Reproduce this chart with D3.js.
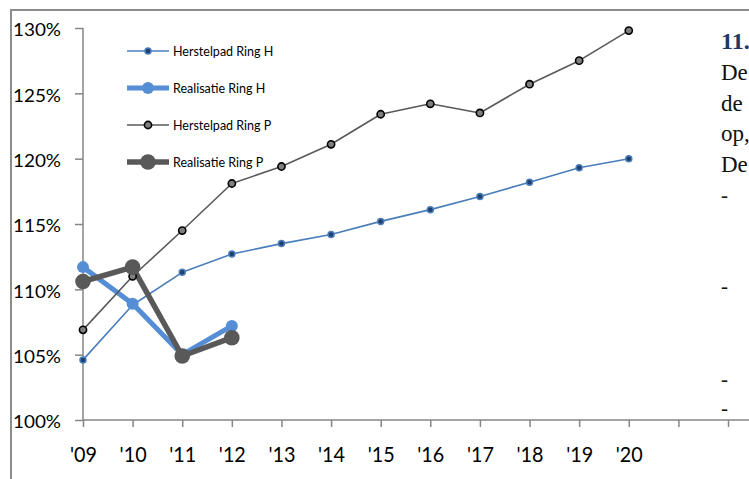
<!DOCTYPE html>
<html>
<head>
<meta charset="utf-8">
<script src="https://cdn.jsdelivr.net/npm/d3@7"></script>
<style>
  html, body { margin: 0; padding: 0; background: #ffffff; }
  svg { display: block; }
</style>
</head>
<body>
<svg id="chart" width="749" height="479"></svg>
<script>
// ---- data ----
const categories = ["'09","'10","'11","'12","'13","'14","'15","'16","'17","'18","'19","'20"];
const herstelpadH = [104.6, 108.8, 111.3, 112.7, 113.5, 114.2, 115.2, 116.1, 117.1, 118.2, 119.3, 120.0];
const realisatieH = [111.7, 108.9, 105.0, 107.2];
const herstelpadP = [106.9, 111.0, 114.5, 118.1, 119.4, 121.1, 123.4, 124.2, 123.5, 125.7, 127.5, 129.8];
const realisatieP = [110.6, 111.7, 104.9, 106.3];
const yTickValues = [100, 105, 110, 115, 120, 125, 130];
const seriesNames = ["Herstelpad Ring H", "Realisatie Ring H", "Herstelpad Ring P", "Realisatie Ring P"];
const sideHeading = "11.";
const sideLines = ["De", "de", "op,", "De"];
const sideDashes = ["-", "-", "-", "-"];

// ---- layout ----
const svg = d3.select("#chart");
const slotCount = 14; // axis slots ('09 .. '22), only first 12 labelled
const x = d3.scaleLinear().domain([0, slotCount - 1]).range([83, 728]);
const y = d3.scaleLinear().domain([100, 130]).range([420, 28]);
const font = "Lato, 'Open Sans', sans-serif";

// outer frame (left + top edges)
svg.append("path")
  .attr("d", "M11,479 L11,10 L749,10")
  .attr("fill", "none")
  .attr("stroke", "#8c8c8c")
  .attr("stroke-width", 2);

// side document text (behind chart on the right)
const side = svg.append("g").attr("font-family", "'Liberation Serif', 'Times New Roman', serif");
side.append("text")
  .attr("x", 721).attr("y", 49)
  .attr("font-size", 24).attr("font-weight", "bold").attr("fill", "#1f3864")
  .text(sideHeading);
side.selectAll("text.line").data(sideLines).join("text")
  .attr("class", "line")
  .attr("x", 721).attr("y", (d, i) => 80 + i * 30.5)
  .attr("font-size", 23).attr("fill", "#111")
  .text(d => d);
const dashY = [197, 288, 381, 410];
side.selectAll("text.dash").data(sideDashes).join("text")
  .attr("class", "dash")
  .attr("x", 721).attr("y", (d, i) => dashY[i] + 5)
  .attr("font-size", 21).attr("fill", "#111")
  .text(d => d);

// ---- axes ----
const yAxis = d3.axisLeft(y)
  .tickValues(yTickValues)
  .tickFormat(d => d + "%")
  .tickSize(8)
  .tickPadding(14);
const gy = svg.append("g").attr("transform", "translate(83,0)").call(yAxis);
gy.select(".domain").attr("stroke", "#868686").attr("stroke-width", 1.5).attr("d", "M0,28V420");
gy.selectAll(".tick line").attr("stroke", "#868686").attr("stroke-width", 1.5);
gy.selectAll(".tick text")
  .attr("font-family", font).attr("font-size", 17.5).attr("fill", "#000")
  .attr("dy", "0.45em")
  .attr("textLength", 48).attr("lengthAdjust", "spacingAndGlyphs");

const xAxis = d3.axisBottom(x)
  .tickValues(d3.range(slotCount))
  .tickFormat(i => categories[i] || "")
  .tickSize(7)
  .tickPadding(19);
const gx = svg.append("g").attr("transform", "translate(0,420)").call(xAxis);
gx.select(".domain").attr("stroke", "#868686").attr("stroke-width", 1.5).attr("d", "M83,0H749");
gx.selectAll(".tick line").attr("stroke", "#868686").attr("stroke-width", 1.5);
gx.selectAll(".tick text")
  .attr("font-family", font).attr("font-size", 22).attr("fill", "#000")
  .filter(i => categories[i])
  .attr("textLength", 27).attr("lengthAdjust", "spacingAndGlyphs");

// ---- series ----
const series = [
  { name: seriesNames[0], values: herstelpadH, color: "#4a7ebb", width: 1.6, r: 3, fill: "#1f3f6e", stroke: "#4a7ebb", sw: 1.5 },
  { name: seriesNames[1], values: realisatieH, color: "#558ed5", width: 5, r: 6, fill: "#558ed5", stroke: "#558ed5", sw: 0 },
  { name: seriesNames[2], values: herstelpadP, color: "#595959", width: 1.6, r: 3.6, fill: "#7f7f7f", stroke: "#000000", sw: 1.6 },
  { name: seriesNames[3], values: realisatieP, color: "#595959", width: 5.5, r: 7.8, fill: "#595959", stroke: "#595959", sw: 0 }
];

const line = d3.line().x((d, i) => x(i)).y(d => y(d));
const plot = svg.append("g");
series.forEach(s => {
  plot.append("path")
    .attr("d", line(s.values))
    .attr("fill", "none")
    .attr("stroke", s.color)
    .attr("stroke-width", s.width)
    .attr("stroke-linejoin", "round");
});
series.forEach(s => {
  plot.append("g").selectAll("circle").data(s.values).join("circle")
    .attr("cx", (d, i) => x(i))
    .attr("cy", d => y(d))
    .attr("r", s.r)
    .attr("fill", s.fill)
    .attr("stroke", s.stroke)
    .attr("stroke-width", s.sw);
});

// ---- legend ----
const legendY = [51, 88, 125, 162];
const legend = svg.append("g");
series.forEach((s, i) => {
  const g = legend.append("g").attr("transform", `translate(0,${legendY[i]})`);
  g.append("line").attr("x1", 127).attr("x2", 169).attr("y1", 0).attr("y2", 0)
    .attr("stroke", s.color).attr("stroke-width", s.width);
  g.append("circle").attr("cx", 148).attr("cy", 0).attr("r", s.r)
    .attr("fill", s.fill).attr("stroke", s.stroke).attr("stroke-width", s.sw);
  g.append("text").attr("x", 173).attr("y", 0).attr("dy", "0.36em")
    .attr("font-family", font).attr("font-size", 12.5).attr("fill", "#000")
    .text(s.name);
});
</script>
</body>
</html>
